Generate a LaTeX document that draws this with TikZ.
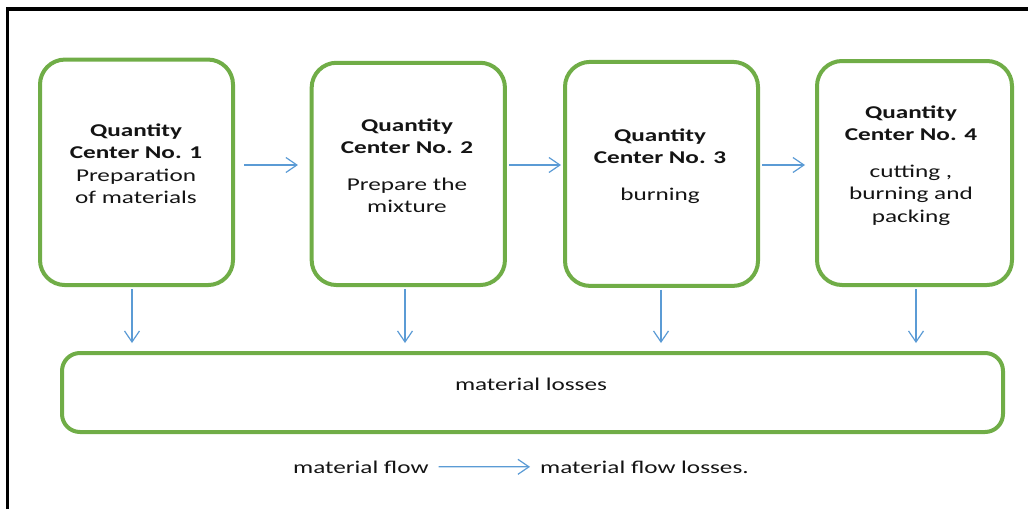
\documentclass[tikz,border=0pt]{standalone}
\usepackage{fontspec}
\setmainfont{Carlito}[FakeStretch=1.4]
\usetikzlibrary{arrows.meta}
\definecolor{boxgreen}{RGB}{112,173,71}
\definecolor{flowblue}{RGB}{91,155,213}
\definecolor{txt}{RGB}{20,20,20}
\begin{document}
\begin{tikzpicture}[x=1pt,y=-1pt,
  center/.style={draw=boxgreen,line width=4pt,rounded corners=25pt,inner sep=0pt},
  lossbox/.style={draw=boxgreen,line width=4pt,rounded corners=18pt,inner sep=0pt},
  lbl/.style={inner sep=0pt,align=center,text=txt,font=\fontsize{18}{22.5}\selectfont},
  arr/.style={draw=flowblue,line width=1.2pt,-{Straight Barb[length=11pt,width=15pt]}},
  frameline/.style={line width=3.5pt,black}]
\useasboundingbox (0,0) rectangle (1028,509);
\coordinate (fa) at (7.5,509);
\coordinate (fb) at (7.5,9);
\coordinate (fc) at (1028,9);
\draw[frameline] (fa) -- (fb) -- (fc);
% boxes
\node[center,minimum width=193pt,minimum height=225.5pt] (b1) at (136.5,172.3) {};
\node[center,minimum width=193.3pt,minimum height=222.3pt] (b2) at (408.3,173.9) {};
\node[center,minimum width=193pt,minimum height=224pt] (b3) at (661.5,173.9) {};
\node[center,minimum width=195pt,minimum height=224pt] (b4) at (914.5,173) {};
\node[lossbox,minimum width=941pt,minimum height=79pt] (loss) at (532.5,392.5) {};
% texts
\node[lbl,anchor=north] (t1) at (136,123.5) {\textbf{Quantity}\\\textbf{Center No. 1}\\Preparation\\of materials};
\node[lbl,anchor=north] (t2) at (407,118.5) {\textbf{Quantity}\\\textbf{Center No. 2}\\[14pt]Prepare the\\mixture};
\node[lbl,anchor=north] (t3) at (660,128.5) {\textbf{Quantity}\\\textbf{Center No. 3}\\[14pt]burning};
\node[lbl,anchor=north] (t4) at (911,105.5) {\textbf{Quantity}\\\textbf{Center No. 4}\\[14pt]cutting ,\\burning and\\packing};
\node[lbl,anchor=base] (tl) at (531,390) {material losses};
% legend
\node[lbl,anchor=base west] (lf1) at (293,473) {material flow};
\node[lbl,anchor=base west] (lf2) at (540,473) {material flow losses.};
\draw[arr,shorten <=10pt,shorten >=10pt] (lf1.east) -- (lf2.west);
% horizontal arrows
\draw[arr,shorten <=9pt,shorten >=11.7pt] (b1.east |- 0,165) -- (b2.west |- 0,165);
\draw[arr,shorten <=2pt,shorten >=2pt] (b2.east |- 0,165) -- (b3.west |- 0,165);
\draw[arr,shorten <=2pt,shorten >=10pt] (b3.east |- 0,165) -- (b4.west |- 0,165);
% vertical arrows
\draw[arr,shorten <=2pt,shorten >=8pt] (b1.south -| 132,0) -- (loss.north -| 132,0);
\draw[arr,shorten <=2pt,shorten >=8pt] (b2.south -| 405,0) -- (loss.north -| 405,0);
\draw[arr,shorten <=2pt,shorten >=8pt] (b3.south -| 661,0) -- (loss.north -| 661,0);
\draw[arr,shorten <=2pt,shorten >=8pt] (b4.south -| 916,0) -- (loss.north -| 916,0);
\end{tikzpicture}
\end{document}
